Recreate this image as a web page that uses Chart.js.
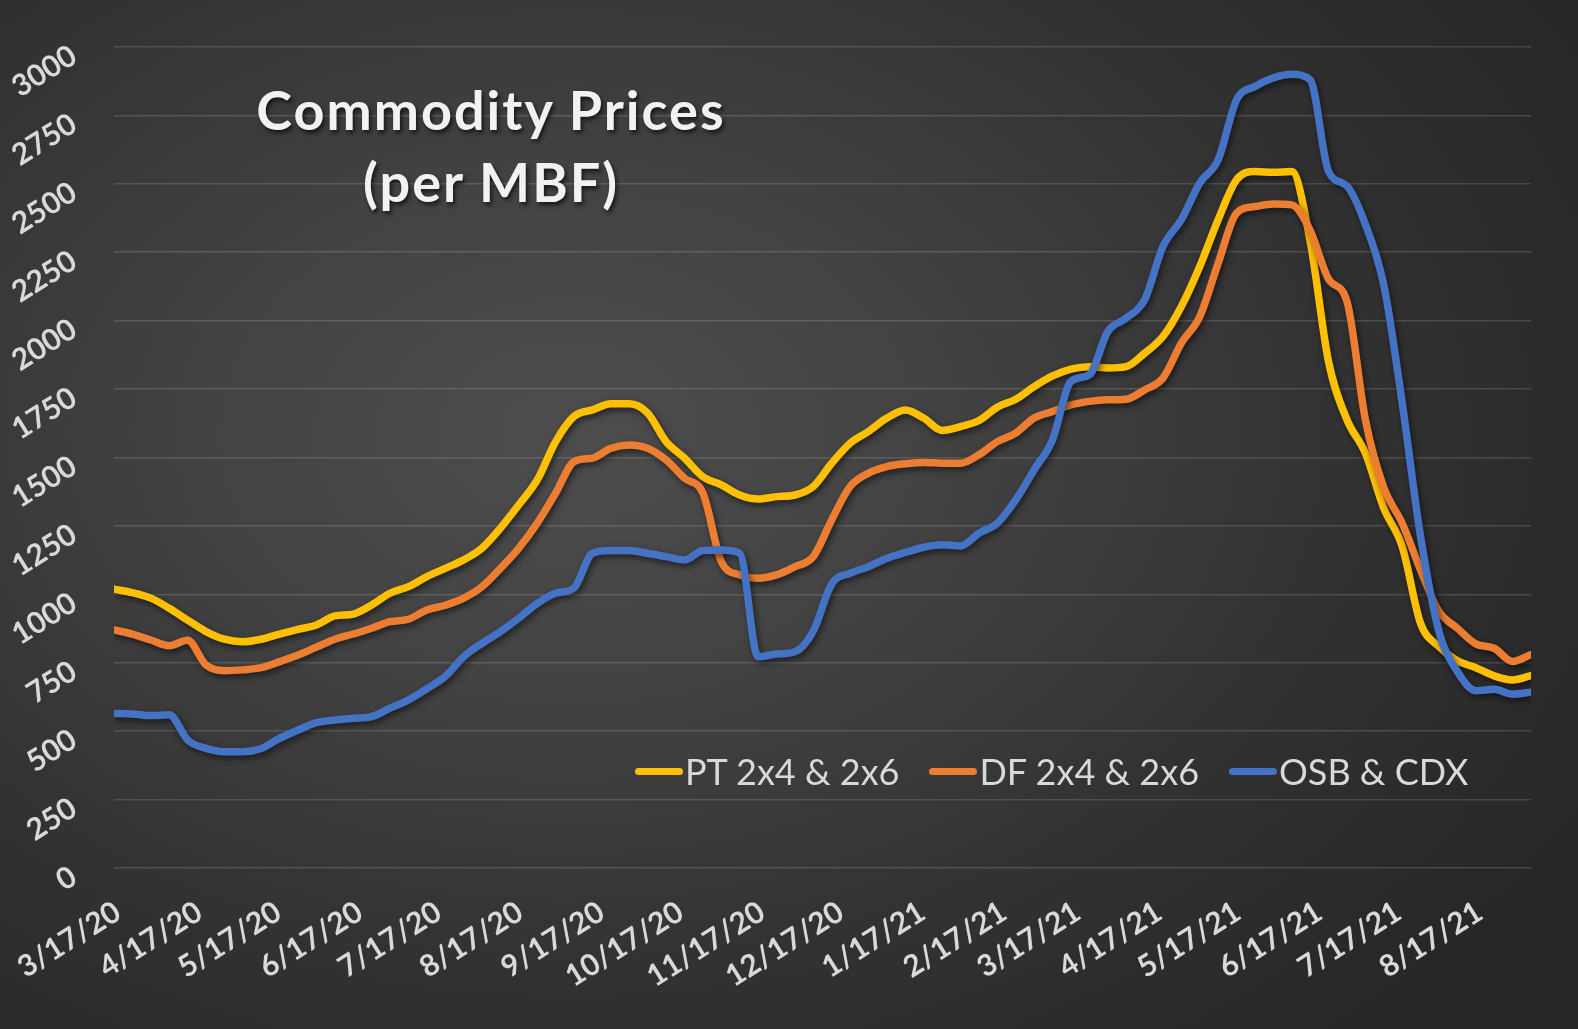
<!DOCTYPE html>
<html>
<head>
<meta charset="utf-8">
<script src="https://cdn.jsdelivr.net/npm/chart.js@4.4.1/dist/chart.umd.min.js"></script>
<style>
  html, body { margin: 0; padding: 0; }
  body {
    width: 1578px; height: 1029px; overflow: hidden;
    background: radial-gradient(ellipse 75% 80% at 36% 42%, #4d4d4d 0%, #434343 30%, #323232 65%, #262626 100%);
  }
  #wrap { position: relative; width: 1578px; height: 1029px; }
  #chart { position: absolute; left: 0; top: 0; }
  .title {
    position: absolute; left: 191px; top: 74px; width: 600px;
    text-align: center; font-family: Lato, sans-serif; font-weight: bold;
    font-size: 54px; line-height: 72px; letter-spacing: 2px; color: #f2f2f2;
    text-shadow: 2px 3px 4px rgba(0, 0, 0, 0.65);
  }
  .legend {
    position: absolute; left: 635px; top: 749px; display: flex; align-items: center;
    font-family: Lato, sans-serif; font-size: 36px; color: #d9d9d9;
  }
  .legend .item { display: flex; align-items: center; margin-right: 30px; }
  .legend .swatch { width: 48px; height: 7px; border-radius: 4px; margin-right: 2px; }
</style>
</head>
<body>
<div id="wrap">
  <canvas id="chart" width="1578" height="1029"></canvas>
  <div class="title">Commodity Prices<br>(per MBF)</div>
  <div class="legend" id="legend"></div>
</div>
<script>
// weekly price dates
const dates = [
  "3/17/20", "3/24/20", "3/31/20", "4/7/20", "4/14/20", "4/21/20", "4/28/20", "5/5/20", "5/12/20", "5/19/20",
  "5/26/20", "6/2/20", "6/9/20", "6/16/20", "6/23/20", "6/30/20", "7/7/20", "7/14/20", "7/21/20", "7/28/20",
  "8/4/20", "8/11/20", "8/18/20", "8/25/20", "9/1/20", "9/8/20", "9/15/20", "9/22/20", "9/29/20", "10/6/20",
  "10/13/20", "10/20/20", "10/27/20", "11/3/20", "11/10/20", "11/17/20", "11/24/20", "12/1/20", "12/8/20", "12/15/20",
  "12/22/20", "12/29/20", "1/5/21", "1/12/21", "1/19/21", "1/26/21", "2/2/21", "2/9/21", "2/16/21", "2/23/21",
  "3/2/21", "3/9/21", "3/16/21", "3/23/21", "3/30/21", "4/6/21", "4/13/21", "4/20/21", "4/27/21", "5/4/21",
  "5/11/21", "5/18/21", "5/25/21", "6/1/21", "6/8/21", "6/15/21", "6/22/21", "6/29/21", "7/6/21", "7/13/21",
  "7/20/21", "7/27/21", "8/3/21", "8/10/21", "8/17/21", "8/24/21", "8/31/21", "9/7/21"
];

const ptPrices = [
  1019, 1006, 986, 949, 906, 864, 836, 827, 836, 855,
  872, 888, 921, 928, 961, 1004, 1028, 1065, 1095, 1126,
  1169, 1242, 1327, 1418, 1558, 1650, 1674, 1696, 1696, 1662,
  1558, 1498, 1430, 1400, 1363, 1348, 1357, 1363, 1394, 1479,
  1552, 1595, 1644, 1674, 1644, 1599, 1613, 1635, 1684, 1713,
  1759, 1798, 1823, 1832, 1827, 1832, 1881, 1942, 2052, 2198,
  2369, 2515, 2545, 2542, 2545, 2290, 1850, 1638, 1516, 1315,
  1175, 894, 809, 757, 732, 702, 687, 703
];

const dfPrices = [
  870, 855, 833, 812, 832, 742, 721, 724, 732, 754,
  778, 807, 836, 855, 876, 900, 909, 943, 960, 986,
  1028, 1095, 1169, 1260, 1370, 1485, 1498, 1534, 1546, 1534,
  1491, 1424, 1370, 1120, 1071, 1059, 1071, 1101, 1138, 1272,
  1394, 1443, 1467, 1477, 1482, 1479, 1479, 1510, 1558, 1589,
  1644, 1668, 1692, 1705, 1711, 1713, 1747, 1790, 1918, 2015,
  2210, 2393, 2417, 2426, 2423, 2330, 2152, 2070, 1638, 1390,
  1260, 1089, 937, 876, 819, 803, 755, 780
];

const osbPrices = [
  565, 563, 557, 560, 468, 437, 425, 425, 437, 474,
  504, 531, 541, 547, 553, 584, 614, 655, 700, 772,
  821, 864, 913, 967, 1004, 1024, 1150, 1160, 1160, 1150,
  1138, 1126, 1160, 1162, 1150, 772, 782, 790, 866, 1038,
  1077, 1101, 1132, 1153, 1172, 1181, 1177, 1223, 1260, 1345,
  1455, 1565, 1778, 1802, 1960, 2009, 2076, 2271, 2369, 2503,
  2588, 2807, 2856, 2887, 2900, 2880, 2545, 2492, 2352, 2130,
  1700, 1211, 864, 718, 648, 653, 635, 642
];

const tickLabels = [
  "3/17/20", "4/17/20", "5/17/20", "6/17/20", "7/17/20", "8/17/20", "9/17/20", "10/17/20", "11/17/20",
  "12/17/20", "1/17/21", "2/17/21", "3/17/21", "4/17/21", "5/17/21", "6/17/21", "7/17/21", "8/17/21"
];

const seriesNames = ["PT 2x4 & 2x6", "DF 2x4 & 2x6", "OSB & CDX"];
const seriesColors = ["#FFC000", "#ED7D31", "#4472C4"];

function dayNumber(s) {
  const [m, d, y] = s.split("/").map(Number);
  return Date.UTC(2000 + y, m - 1, d) / 86400000;
}
const startDay = dayNumber(dates[0]);
const xs = dates.map(s => dayNumber(s) - startDay);
const tickDays = tickLabels.map(s => dayNumber(s) - startDay);

function points(values) {
  return values.map((v, i) => ({ x: xs[i], y: v }));
}

const labelFont = { family: "Lato, sans-serif", size: 30, weight: "bold" };
const labelColor = "#d9d9d9";

// sombra debajo de las lineas
const lineShadow = {
  id: "lineShadow",
  beforeDatasetDraw(chart) {
    const c = chart.ctx;
    c.save();
    c.shadowColor = "rgba(0,0,0,0.55)";
    c.shadowBlur = 6;
    c.shadowOffsetX = 2;
    c.shadowOffsetY = 3;
  },
  afterDatasetDraw(chart) {
    chart.ctx.restore();
  }
};

const allSeries = [ptPrices, dfPrices, osbPrices];

const chart = new Chart(document.getElementById("chart"), {
  type: "line",
  data: {
    datasets: allSeries.map((vals, i) => ({
      label: seriesNames[i],
      data: points(vals),
      borderColor: seriesColors[i],
      backgroundColor: seriesColors[i],
      borderWidth: 7.5,
      borderCapStyle: "round",
      borderJoinStyle: "round",
      pointRadius: 0,
      cubicInterpolationMode: "monotone",
      fill: false,
      order: 3 - i
    }))
  },
  options: {
    responsive: false,
    animation: false,
    layout: { padding: { top: 47, right: 47, left: 0, bottom: 0 } },
    plugins: {
      legend: { display: false },
      title: { display: false },
      tooltip: { enabled: false }
    },
    scales: {
      x: {
        type: "linear",
        min: xs[0],
        max: xs[xs.length - 1],
        grid: { display: false },
        border: { display: false },
        afterBuildTicks: scale => {
          scale.ticks = tickDays.map(v => ({ value: v }));
        },
        afterFit: scale => {
          scale.height = 161;
          scale.paddingLeft = 0;
          scale.paddingRight = 0;
        },
        ticks: {
          autoSkip: false,
          minRotation: 32,
          maxRotation: 32,
          padding: 18,
          labelOffset: 4,
          color: labelColor,
          font: labelFont,
          callback: (value, index) => tickLabels[index]
        }
      },
      y: {
        min: 0,
        max: 3000,
        afterFit: scale => {
          scale.width = 114;
          scale.paddingTop = 0;
          scale.paddingBottom = 0;
        },
        border: { display: false },
        grid: { color: "rgba(255,255,255,0.14)", lineWidth: 1.6, drawTicks: false },
        ticks: {
          stepSize: 250,
          minRotation: 32,
          maxRotation: 32,
          padding: 40,
          labelOffset: 6,
          color: labelColor,
          font: labelFont,
          callback: value => String(value)
        }
      }
    }
  },
  plugins: [lineShadow]
});

// leyenda dentro del grafico
const legendBox = document.getElementById("legend");
chart.data.datasets.forEach(ds => {
  const item = document.createElement("div");
  item.classList.add("item");
  const swatch = document.createElement("span");
  swatch.classList.add("swatch");
  swatch.style.background = ds.borderColor;
  const text = document.createElement("span");
  text.textContent = ds.label;
  item.append(swatch, text);
  legendBox.appendChild(item);
});
</script>
</body>
</html>
